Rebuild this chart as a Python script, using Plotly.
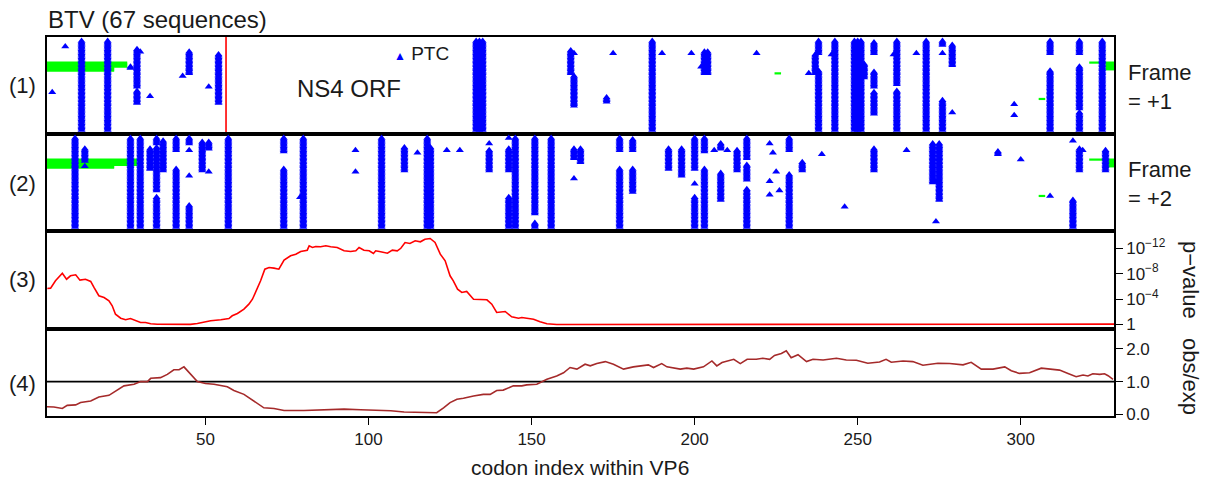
import plotly.graph_objects as go

# ---------------- data ----------------
X_RANGE = [1.4, 328.6]
N_SEQ = 67
NS4_END = 56.3  # end of NS4 ORF (codon)

# PTC runs per frame: (codon, first_row, last_row); row 1 = top sequence
FRAME1_PTC = [
    (3, 39, 39), (7, 5, 5), (12, 1, 67), (20, 1, 67), (27, 20, 21),
    (29, 7, 35), (29, 38, 47), (30, 9, 9), (33, 42, 42), (43, 27, 27),
    (45, 9, 25), (51, 35, 35), (54, 11, 47),
    (133, 1, 67), (134, 1, 67), (135, 1, 67),
    (162, 8, 25), (163, 10, 10), (163, 27, 49),
    (173, 43, 46), (175, 10, 10), (187, 1, 67), (190, 10, 10), (199, 10, 10),
    (202, 20, 20), (203, 9, 25), (204, 9, 25), (219, 10, 10), (235, 25, 25),
    (237, 11, 25), (238, 1, 10), (238, 23, 67), (242, 11, 11), (243, 1, 67),
    (249, 1, 67), (250, 1, 67), (251, 1, 67), (252, 18, 28),
    (255, 2, 10), (255, 24, 35), (255, 39, 55), (261, 11, 11),
    (262, 1, 33), (262, 38, 67), (268, 10, 10), (271, 1, 67),
    (276, 1, 4), (276, 10, 10), (276, 45, 67), (279, 4, 19), (279, 54, 54),
    (298, 48, 48), (298, 56, 56), (309, 1, 10), (309, 23, 67),
    (318, 1, 10), (318, 20, 51), (318, 54, 67), (325, 1, 67),
]
FRAME2_PTC = [
    (10, 1, 67), (13, 9, 18), (13, 22, 22), (27, 1, 67), (30, 1, 67),
    (33, 9, 24), (35, 1, 5), (35, 8, 40), (35, 45, 67), (37, 3, 25),
    (41, 1, 10), (41, 24, 67), (45, 1, 5), (45, 10, 10), (45, 29, 29),
    (45, 51, 67), (49, 4, 25), (51, 4, 9), (51, 26, 26), (57, 1, 67),
    (74, 1, 11), (74, 24, 67), (79, 45, 45), (80, 1, 67),
    (96, 10, 10), (96, 26, 26), (104, 1, 67), (111, 8, 25), (115, 12, 12),
    (118, 1, 67), (119, 8, 67), (124, 10, 10), (128, 10, 10),
    (137, 5, 5), (137, 10, 25), (143, 1, 1), (143, 9, 25), (143, 45, 67),
    (145, 1, 67), (151, 1, 57), (151, 64, 67), (156, 1, 67),
    (163, 9, 16), (165, 9, 19), (163, 31, 31),
    (177, 1, 10), (177, 24, 67), (181, 2, 10), (181, 24, 41),
    (192, 9, 24), (196, 9, 29), (200, 1, 24), (200, 35, 35), (200, 45, 67),
    (203, 1, 11), (203, 24, 67), (206, 10, 10), (208, 5, 9), (210, 10, 10),
    (208, 27, 47), (213, 10, 25), (216, 1, 16), (216, 21, 32), (216, 39, 67),
    (223, 5, 5), (223, 33, 33), (223, 43, 43), (224, 12, 12), (225, 26, 26),
    (226, 40, 40), (229, 1, 10), (229, 28, 67), (233, 19, 25), (239, 13, 13),
    (246, 52, 52),
    (255, 9, 25), (265, 10, 10), (273, 5, 34), (274, 33, 33), (275, 5, 47),
    (274, 63, 63), (293, 11, 13), (300, 17, 17), (309, 44, 44),
    (316, 3, 3), (316, 47, 67), (318, 9, 25), (319, 10, 10), (326, 10, 25),
]
# green segments (missing sequence data): (row, start_codon, end_codon)
FRAME1_GAPS = [
    (17, 1, 26), (18, 1, 26), (19, 1, 26), (20, 1, 26),
    (21, 1, 22), (22, 1, 22), (23, 1, 22),
    (25, 224.5, 226.5), (44, 305.5, 307.5),
    (17, 321, 329), (18, 326, 329), (19, 326, 329), (20, 326, 329),
    (21, 326, 329), (22, 326, 329),
]
FRAME2_GAPS = [
    (17, 1, 29), (18, 1, 29), (19, 1, 29), (20, 1, 29), (21, 1, 29),
    (22, 1, 22), (23, 1, 22),
    (44, 305.5, 307.5),
    (17, 321, 329), (18, 326, 329), (19, 326, 329), (20, 326, 329),
    (21, 326, 329), (22, 326, 329),
]

# panel (3): -log10(p-value)
PVAL_CODON = [1.5, 2.5, 4.0, 6.1, 7.4, 8.6, 10.2, 11.5, 13.2, 14.8, 15.8, 17.3,
              18.9, 20.4, 21.4, 22.4, 24.0, 25.5, 27.0, 28.6, 30.1, 31.6, 33.2,
              35.2, 37.3, 40.3, 43.4, 45.4, 47.5, 49.5, 51.6, 54.7, 57.2, 58.2,
              59.8, 61.8, 63.3, 64.4, 65.9, 66.9, 68.2, 69.5, 71.0, 72.5, 74.1,
              76.1, 77.7, 79.2, 81.2, 81.8, 82.8, 83.8, 85.3, 86.9, 88.4, 90.4,
              92.5, 94.5, 96.1, 97.1, 98.6, 100.2, 101.5, 102.2, 103.7, 105.8,
              107.3, 108.8, 109.9, 111.2, 112.7, 114.3, 115.9, 117.3, 118.9,
              120.4, 122.0, 123.5, 125.0, 126.0, 127.3, 128.6, 130.1, 132.2,
              136.3, 137.8, 139.3, 141.9, 143.9, 146.0, 147.0, 148.5, 150.6,
              152.6, 154.7, 157.7, 200.0, 250.0, 300.0, 320.0, 328.6]
PVAL_NLOG10 = [5.67, 5.72, 6.88, 8.08, 7.13, 7.67, 7.83, 6.98, 7.13, 6.77, 5.83,
               4.52, 4.25, 3.73, 2.94, 1.62, 0.99, 0.74, 0.94, 0.58, 0.31, 0.31,
               0.11, 0.03, 0.02, 0.0, 0.0, 0.02, 0.16, 0.42, 0.58, 0.74, 0.94,
               1.37, 1.73, 2.41, 3.20, 3.98, 5.56, 6.88, 8.71, 8.98, 8.87, 8.71,
               10.13, 10.82, 11.07, 11.50, 11.70, 12.39, 12.13, 12.28, 12.24,
               12.39, 12.24, 12.13, 11.60, 11.50, 11.60, 12.13, 11.70, 11.60,
               11.18, 11.60, 11.44, 11.23, 11.70, 11.60, 12.0, 12.9, 12.76,
               13.18, 13.02, 13.43, 13.54, 12.91, 11.07, 10.03, 7.67, 6.88,
               5.56, 5.04, 5.20, 3.98, 3.89, 3.20, 1.89, 2.05, 1.21, 0.99, 1.10,
               0.94, 0.83, 0.42, 0.11, 0.0, 0.0, 0.0, 0.0, 0.02, 0.05]

# panel (4): observed / expected
OE_CODON = [1.0, 3.5, 6.1, 7.6, 10.2, 11.7, 14.8, 17.3, 20.4, 22.4, 25.0, 28.1,
            30.1, 32.2, 33.2, 36.2, 38.3, 40.3, 41.9, 43.4, 45.4, 47.5, 50.0,
            52.6, 56.7, 58.7, 61.8, 64.9, 67.9, 71.0, 74.1, 80.2, 86.3, 88.4,
            92.5, 97.6, 102.7, 106.8, 110.9, 113.7, 117.9, 120.9, 123.0, 125.0,
            127.1, 129.1, 132.2, 135.2, 137.3, 139.3, 141.3, 144.4, 147.0,
            148.5, 151.6, 154.7, 157.7, 159.8, 161.8, 163.9, 166.4, 168.0,
            170.0, 172.6, 175.1, 178.2, 181.2, 185.8, 187.4, 189.9, 191.5,
            195.6, 197.6, 199.7, 202.7, 205.3, 206.8, 208.4, 212.0, 214.0,
            216.1, 218.9, 220.9, 223.0, 224.5, 226.6, 228.1, 229.6, 231.7,
            234.3, 236.3, 239.4, 243.5, 246.5, 249.6, 253.1, 256.7, 258.7,
            260.3, 263.9, 266.9, 270.0, 274.6, 278.2, 282.3, 284.8, 287.9,
            291.5, 295.1, 297.1, 299.6, 302.7, 306.3, 308.8, 311.9, 314.5,
            317.0, 319.1, 320.6, 322.1, 324.2, 325.7, 326.8, 328.3]
OE_VALUE = [0.235, 0.226, 0.18, 0.275, 0.29, 0.36, 0.41, 0.53, 0.58, 0.71, 0.87,
            0.92, 1.0, 1.0, 1.10, 1.12, 1.22, 1.36, 1.36, 1.45, 1.22, 1.0, 0.94,
            0.92, 0.84, 0.73, 0.61, 0.41, 0.20, 0.18, 0.12, 0.12, 0.15, 0.14,
            0.16, 0.14, 0.13, 0.11, 0.07, 0.07, 0.05, 0.05, 0.20, 0.36, 0.46,
            0.49, 0.56, 0.61, 0.61, 0.73, 0.74, 0.87, 0.87, 0.90, 0.92, 1.07,
            1.17, 1.27, 1.43, 1.38, 1.53, 1.48, 1.55, 1.61, 1.53, 1.38, 1.45,
            1.51, 1.43, 1.55, 1.45, 1.38, 1.41, 1.38, 1.45, 1.63, 1.48, 1.58,
            1.68, 1.55, 1.68, 1.68, 1.71, 1.68, 1.80, 1.86, 1.94, 1.73, 1.82,
            1.61, 1.68, 1.66, 1.71, 1.66, 1.65, 1.56, 1.60, 1.68, 1.59, 1.63,
            1.61, 1.50, 1.56, 1.55, 1.51, 1.59, 1.38, 1.38, 1.45, 1.33, 1.25,
            1.27, 1.41, 1.38, 1.35, 1.25, 1.15, 1.20, 1.17, 1.24, 1.22, 1.24,
            1.18, 1.07]

PVAL_TICKS = [0, 4, 8, 12]
PVAL_TICKTEXT = ["1", "10<sup>\u22124</sup>", "10<sup>\u22128</sup>", "10<sup>\u221212</sup>"]
OE_TICKS = [0, 1, 2]
OE_TICKTEXT = ["0.0", "1.0", "2.0"]
X_TICKS = [50, 100, 150, 200, 250, 300]

assert len(PVAL_CODON) == len(PVAL_NLOG10)
assert len(OE_CODON) == len(OE_VALUE)

# ---------------- figure ----------------
FONT = "Liberation Sans, Arial, sans-serif"
TEXT = "#1a1a1a"
BLUE = "#0000FF"
GREEN = "#00FF00"


def expand(runs):
    xs, ys = [], []
    for c, r0, r1 in runs:
        for r in range(r0, r1 + 1):
            xs.append(c)
            ys.append(r)
    return xs, ys


def gap_lines(gaps):
    xs, ys = [], []
    for r, a, b in gaps:
        xs += [a, b, None]
        ys += [r, r, None]
    return xs, ys


fig = go.Figure()

for panel, runs, gaps in ((1, FRAME1_PTC, FRAME1_GAPS), (2, FRAME2_PTC, FRAME2_GAPS)):
    ax = "" if panel == 1 else str(panel)
    gx, gy = gap_lines(gaps)
    fig.add_trace(go.Scatter(x=gx, y=gy, mode="lines", line=dict(color=GREEN, width=2.2),
                             xaxis="x" + ax, yaxis="y" + ax, showlegend=False, hoverinfo="skip"))
    px_, py_ = expand(runs)
    fig.add_trace(go.Scatter(x=px_, y=py_, mode="markers",
                             marker=dict(symbol="triangle-up", size=7, color=BLUE, line=dict(width=0)),
                             xaxis="x" + ax, yaxis="y" + ax, showlegend=False, name="PTC"))

# NS4 ORF end line in frame +1
fig.add_trace(go.Scatter(x=[NS4_END, NS4_END], y=[-3, N_SEQ + 4], mode="lines",
                         line=dict(color="#FF0000", width=1.6), xaxis="x", yaxis="y",
                         showlegend=False, hoverinfo="skip"))

fig.add_trace(go.Scatter(x=PVAL_CODON, y=PVAL_NLOG10, mode="lines",
                         line=dict(color="#FF0000", width=1.6), xaxis="x3", yaxis="y3",
                         showlegend=False))
fig.add_trace(go.Scatter(x=X_RANGE, y=[1, 1], mode="lines",
                         line=dict(color="black", width=1.6), xaxis="x4", yaxis="y4",
                         showlegend=False, hoverinfo="skip"))
fig.add_trace(go.Scatter(x=OE_CODON, y=OE_VALUE, mode="lines",
                         line=dict(color="#A52A2A", width=1.6), xaxis="x4", yaxis="y4",
                         showlegend=False))

H_TOT = 379.0
dom4 = [0, 87 / H_TOT]
dom3 = [87 / H_TOT, 185 / H_TOT]
dom2 = [185 / H_TOT, 282 / H_TOT]
dom1 = [282 / H_TOT, 1]

box = dict(showline=True, mirror=True, linecolor="black", linewidth=1.6,
           showgrid=False, zeroline=False)
xcommon = dict(range=X_RANGE, **box)
tickfont = dict(family=FONT, size=17, color=TEXT)

layout = dict(
    width=1210, height=482,
    margin=dict(l=47, r=96, t=37, b=66),
    paper_bgcolor="white", plot_bgcolor="white",
    font=dict(family=FONT, color=TEXT),
    xaxis=dict(anchor="y", showticklabels=False, ticks="", **xcommon),
    xaxis2=dict(anchor="y2", showticklabels=False, ticks="", matches="x", **xcommon),
    xaxis3=dict(anchor="y3", showticklabels=False, ticks="", matches="x", **xcommon),
    xaxis4=dict(anchor="y4", tickvals=X_TICKS, ticks="outside", ticklen=7, tickwidth=1.4,
                tickcolor="black", tickfont=tickfont, matches="x", **xcommon),
    yaxis=dict(domain=dom1, range=[N_SEQ + 3, -2], anchor="x", showticklabels=False,
               ticks="", **box),
    yaxis2=dict(domain=dom2, range=[N_SEQ + 3, -2], anchor="x2", showticklabels=False,
                ticks="", **box),
    yaxis3=dict(domain=dom3, range=[-0.71, 14.72], anchor="x3", side="right",
                tickvals=PVAL_TICKS, ticktext=PVAL_TICKTEXT, ticks="outside", ticklen=7,
                tickwidth=1.4, tickcolor="black", tickfont=tickfont, **box),
    yaxis4=dict(domain=dom4, range=[-0.05, 2.605], anchor="x4", side="right",
                tickvals=OE_TICKS, ticktext=OE_TICKTEXT, ticks="outside", ticklen=7,
                tickwidth=1.4, tickcolor="black", tickfont=tickfont, **box),
)
fig.update_layout(**layout)


def px_x(px):
    return (px - 47) / 1067.0


def px_y(py):
    return (416 - py) / 379.0


def ann(text, x, y, size, xanchor="center", yanchor="middle", angle=0, align="center"):
    fig.add_annotation(text=text, x=px_x(x), y=px_y(y), xref="paper", yref="paper",
                       showarrow=False, xanchor=xanchor, yanchor=yanchor, textangle=angle,
                       align=align, font=dict(family=FONT, size=size, color=TEXT))


ann("BTV (67 sequences)", 46, 19, 24, xanchor="left")
ann("(1)", 22, 85, 22)
ann("(2)", 22, 183, 22)
ann("(3)", 22, 279, 22)
ann("(4)", 22, 383, 22)
ann("Frame<br>= +1", 1126, 87, 22, xanchor="left", align="left")
ann("Frame<br>= +2", 1126, 184, 22, xanchor="left", align="left")
ann("p\u2212value", 1191, 280, 22, angle=90)
ann("obs/exp", 1191, 376, 22, angle=90)
ann("NS4 ORF", 349, 88, 24)
ann('<span style="color:#0000FF;font-size:12px">\u25B2</span> PTC', 392, 54, 19, xanchor="left")
ann("codon index within VP6", 580, 467, 21)

fig.write_html(
    "out.html",
    config={"displayModeBar": False},
    post_script="document.body.style.margin='0';document.body.style.overflow='hidden';",
)
